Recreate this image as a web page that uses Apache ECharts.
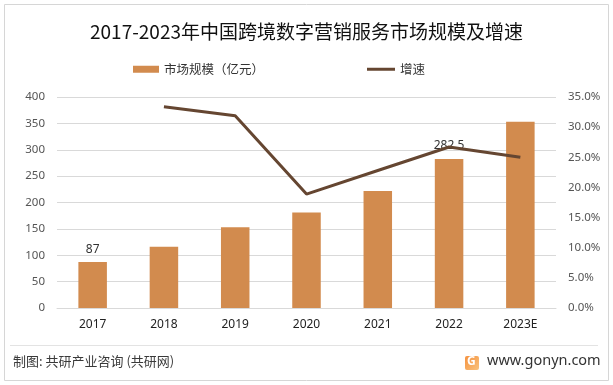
<!DOCTYPE html>
<html>
<head>
<meta charset="utf-8">
<script src="https://cdn.jsdelivr.net/npm/echarts@6/dist/echarts.min.js"></script>
<style>
html,body{margin:0;padding:0;background:#fff;}
#c{width:613px;height:385px;}
</style>
</head>
<body>
<div id="c"></div>
<script>
const categories = ['2017', '2018', '2019', '2020', '2021', '2022', '2023E'];
const marketSize = [87, 116, 153, 181, 222, 282.5, 353];
const growthRate = [null, 33.4, 31.9, 18.9, 22.8, 26.7, 25.0];
const leftTicks = { min: 0, max: 400, interval: 50 };
const rightTicks = { min: 0, max: 35, interval: 5 };
const labeledBars = [0, 5];

const FONT = '"Noto Sans", "Noto Sans CJK SC", sans-serif';
const chart = echarts.init(document.getElementById('c'), null, { renderer: 'canvas' });

const barData = marketSize.map((v, i) => ({
  value: v,
  label: { show: labeledBars.includes(i) }
}));

chart.setOption({
  animation: false,
  backgroundColor: '#fff',
  textStyle: { fontFamily: FONT },
  title: {
    text: '2017-2023年中国跨境数字营销服务市场规模及增速',
    left: 'center',
    top: 17,
    textStyle: { fontSize: 19, fontWeight: 'normal', color: '#111', fontFamily: '"Noto Sans CJK SC", sans-serif' }
  },
  legend: [
    {
      data: ['市场规模（亿元）'],
      left: 128, top: 58,
      itemWidth: 26, itemHeight: 7, itemGap: 4,
      icon: 'rect',
      textStyle: { fontSize: 12.5, color: '#333', fontFamily: '"Noto Sans CJK SC", sans-serif' }
    },
    {
      data: ['增速'],
      left: 362, top: 58,
      itemWidth: 28, itemHeight: 3,
      icon: 'rect',
      textStyle: { fontSize: 12.5, color: '#333', fontFamily: '"Noto Sans CJK SC", sans-serif' }
    }
  ],
  grid: { left: 57, right: 57, top: 97, bottom: 77 },
  xAxis: {
    type: 'category',
    data: categories,
    axisTick: { show: false },
    axisLine: { lineStyle: { color: '#d9d9d9' } },
    axisLabel: { color: '#222', fontSize: 12, margin: 11 }
  },
  yAxis: [
    {
      type: 'value',
      min: leftTicks.min, max: leftTicks.max, interval: leftTicks.interval,
      axisLine: { show: false }, axisTick: { show: false },
      splitLine: { lineStyle: { color: '#d9d9d9' } },
      axisLabel: { color: '#555', fontSize: 11.5, margin: 12 }
    },
    {
      type: 'value',
      min: rightTicks.min, max: rightTicks.max, interval: rightTicks.interval,
      axisLine: { show: false }, axisTick: { show: false },
      splitLine: { show: false },
      axisLabel: { color: '#555', fontSize: 11.5, margin: 12, formatter: v => v.toFixed(1) + '%' }
    }
  ],
  series: [
    {
      name: '市场规模（亿元）',
      type: 'bar',
      data: barData,
      barWidth: '40%',
      itemStyle: { color: '#D28B4E' },
      label: { position: 'top', distance: 7, color: '#333', fontSize: 12 }
    },
    {
      name: '增速',
      type: 'line',
      yAxisIndex: 1,
      data: growthRate,
      symbol: 'none',
      lineStyle: { color: '#654631', width: 3 },
      itemStyle: { color: '#654631' }
    }
  ],
  graphic: [
    { type: 'rect', shape: { x: 4.5, y: 4.5, width: 604, height: 376 }, style: { fill: 'none', stroke: '#d6d6d6', lineWidth: 1 }, silent: true },
    { type: 'line', shape: { x1: 10, y1: 345.5, x2: 598, y2: 345.5 }, style: { stroke: '#e3e3e3', lineWidth: 1 }, silent: true },
    { type: 'text', left: 13, top: 355, style: { text: '制图: 共研产业咨询 (共研网)', fontSize: 13, fill: '#3a3a3a', fontFamily: '"Noto Sans CJK SC", sans-serif' } },
    {
      type: 'rect', shape: { x: 465, y: 356, width: 14, height: 14, r: 2 },
      style: { fill: new echarts.graphic.LinearGradient(0, 0, 1, 1, [{ offset: 0, color: '#f5913e' }, { offset: 1, color: '#f9c27d' }]) }
    },
    { type: 'text', left: 467, top: 355.5, style: { text: 'G', fontSize: 12, fontWeight: 'bold', fill: '#fff', fontFamily: FONT } },
    { type: 'text', left: 487, top: 354, style: { text: 'www.gonyn.com', fontSize: 14.5, fill: '#333', fontFamily: FONT } }
  ]
});
</script>
</body>
</html>
